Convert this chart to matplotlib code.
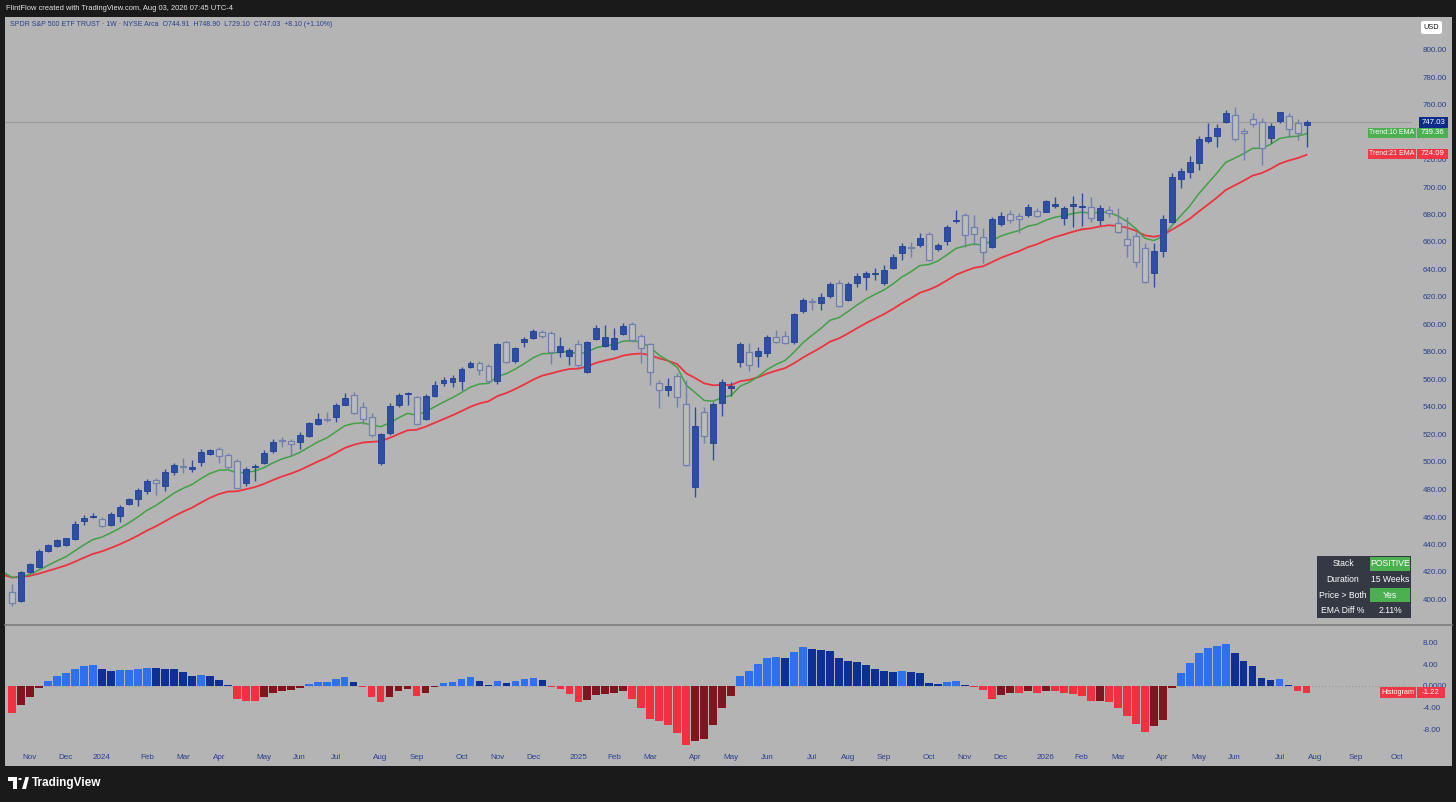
import numpy as np
import matplotlib
matplotlib.use("Agg")
import matplotlib.pyplot as plt
from matplotlib.patches import Rectangle, Polygon, Circle, FancyBboxPatch

plt.rcParams['font.family'] = ['Liberation Sans', 'DejaVu Sans']

# ---------------- data ----------------
opens = [405.7, 399.1, 420.2, 423.9, 435.3, 438.9, 439.9, 444.0, 456.9, 459.8,
         458.3, 454.4, 460.7, 469.5, 473.1, 478.9, 486.9, 482.8, 493.0, 497.0,
         494.9, 500.2, 505.8, 509.7, 504.9, 500.9, 484.5, 496.4, 499.5, 508.2,
         515.8, 515.5, 514.8, 518.9, 527.4, 531.2, 532.5, 541.7, 548.5, 539.8,
         533.0, 499.2, 521.3, 541.5, 549.5, 547.0, 531.3, 548.0, 557.2, 558.4,
         559.1, 568.9, 571.8, 570.0, 559.1, 587.3, 573.7, 587.0, 590.4, 594.5,
         593.6, 580.2, 577.3, 585.6, 565.2, 589.5, 584.4, 582.0, 593.1, 600.1,
         591.6, 585.8, 557.7, 552.4, 562.5, 542.0, 482.0, 536.1, 513.6, 543.1,
         554.0, 572.5, 580.0, 577.3, 579.0, 591.1, 591.6, 587.5, 609.8, 617.0,
         615.6, 621.0, 630.0, 617.8, 630.0, 634.8, 636.8, 630.0, 640.9, 651.8,
         656.3, 657.8, 665.8, 654.7, 661.0, 675.5, 679.6, 670.7, 663.4, 656.6,
         672.9, 680.1, 679.1, 679.6, 682.8, 682.0, 686.2, 677.7, 686.2, 685.2,
         685.2, 676.0, 683.3, 674.0, 662.0, 664.4, 655.9, 637.7, 653.5, 674.8,
         706.0, 710.7, 717.2, 733.7, 737.1, 747.3, 752.6, 740.7, 749.2, 747.3,
         735.9, 748.0, 751.6, 746.3, 744.91]
highs = [411.3, 420.7, 426.8, 436.7, 440.4, 444.0, 445.0, 457.3, 461.5, 462.7,
         459.8, 463.4, 468.7, 474.0, 481.1, 487.4, 488.6, 494.7, 499.0, 502.7,
         501.5, 509.5, 509.7, 511.1, 506.3, 502.0, 496.1, 498.5, 508.7, 516.7,
         518.4, 516.5, 521.6, 529.3, 535.4, 536.6, 542.7, 550.0, 551.1, 543.4,
         535.9, 521.0, 542.7, 550.0, 551.1, 548.0, 549.5, 559.1, 562.0, 563.3,
         568.9, 573.7, 573.7, 571.0, 586.8, 588.2, 583.9, 591.1, 596.7, 596.0,
         595.3, 591.1, 583.1, 588.7, 588.2, 599.6, 599.6, 597.2, 600.9, 602.0,
         593.1, 586.8, 559.6, 560.9, 564.5, 559.6, 540.2, 539.8, 543.9, 560.1,
         558.4, 587.5, 586.3, 583.9, 592.4, 596.0, 595.3, 608.6, 619.0, 619.5,
         622.7, 631.1, 632.4, 631.1, 637.7, 639.1, 640.9, 643.3, 651.3, 659.1,
         660.2, 666.3, 667.5, 659.5, 672.4, 683.3, 681.3, 679.6, 670.0, 678.0,
         681.6, 683.3, 680.9, 687.4, 684.5, 690.5, 692.9, 686.2, 693.5, 695.4,
         693.0, 686.9, 686.2, 684.5, 678.4, 667.5, 659.5, 659.5, 679.6, 710.0,
         713.6, 722.5, 737.1, 746.3, 745.8, 756.0, 758.0, 742.7, 753.6, 750.0,
         746.3, 754.8, 753.6, 749.2, 748.90]
lows = [395.3, 398.4, 419.0, 423.1, 434.8, 438.4, 439.0, 443.3, 454.2, 459.3,
        453.0, 453.7, 456.6, 468.5, 468.0, 476.7, 476.0, 479.1, 490.5, 492.2,
        493.0, 497.3, 504.9, 499.5, 495.4, 480.9, 482.8, 486.2, 498.5, 506.8,
        510.7, 504.6, 509.2, 518.4, 526.9, 529.3, 529.3, 541.2, 534.9, 527.6,
        518.4, 497.8, 519.6, 540.2, 541.5, 526.9, 530.5, 547.5, 555.3, 554.3,
        552.4, 568.1, 563.3, 557.7, 556.7, 571.8, 572.2, 583.4, 589.2, 590.0,
        571.3, 576.6, 570.5, 568.1, 564.5, 588.7, 583.9, 581.5, 592.4, 587.5,
        571.8, 556.0, 539.5, 548.0, 540.2, 497.1, 474.3, 513.6, 501.5, 533.5,
        548.0, 569.3, 566.4, 569.3, 576.6, 586.8, 585.8, 585.8, 608.1, 610.5,
        610.5, 619.0, 612.5, 617.3, 627.1, 625.1, 632.4, 628.7, 640.1, 646.9,
        649.3, 656.6, 646.2, 653.7, 657.8, 673.6, 656.6, 657.8, 644.9, 655.9,
        671.9, 673.6, 666.3, 678.4, 678.0, 681.6, 684.5, 672.4, 671.1, 671.6,
        674.8, 672.4, 678.0, 666.3, 649.3, 642.0, 630.4, 627.5, 649.3, 674.0,
        699.0, 706.3, 712.4, 732.2, 729.3, 746.8, 733.7, 719.6, 743.9, 716.0,
        731.8, 746.8, 736.6, 734.2, 729.10]
closes = [397.2, 419.8, 425.6, 435.5, 439.6, 443.3, 444.5, 454.7, 459.3, 460.7,
          453.7, 462.2, 467.5, 472.9, 479.4, 486.2, 484.5, 492.5, 497.6, 496.5,
          496.1, 507.1, 508.7, 504.4, 496.6, 481.3, 494.7, 497.3, 506.8, 514.8,
          515.2, 512.9, 519.4, 528.1, 531.5, 530.8, 541.5, 546.5, 535.4, 531.0,
          519.6, 520.1, 541.0, 548.5, 550.3, 527.4, 548.2, 556.0, 559.6, 560.9,
          567.4, 572.2, 566.9, 559.1, 585.8, 573.0, 582.7, 589.7, 595.0, 591.6,
          580.2, 584.4, 581.5, 570.5, 587.0, 597.2, 590.7, 590.0, 598.9, 588.7,
          583.1, 565.7, 552.4, 555.3, 547.0, 497.8, 526.2, 518.9, 542.2, 558.4,
          555.5, 585.8, 570.5, 580.7, 590.7, 587.5, 586.8, 607.6, 617.8, 616.2,
          620.0, 629.5, 613.7, 629.5, 635.3, 637.7, 637.6, 639.6, 649.3, 657.3,
          655.6, 663.1, 646.9, 657.8, 670.7, 676.3, 665.1, 665.6, 653.0, 676.7,
          679.1, 676.0, 676.5, 685.7, 678.9, 689.8, 687.4, 684.5, 687.6, 686.4,
          677.2, 685.0, 680.9, 667.5, 657.8, 645.7, 631.1, 653.5, 677.0, 707.5,
          711.4, 718.0, 734.7, 736.6, 742.9, 754.0, 734.7, 739.0, 745.6, 728.1,
          744.1, 754.3, 742.0, 738.93, 747.03]
# EMA values of the week before the first visible bar (read at the left edge)
ema10_seed = 420.2
ema21_seed = 417.9
hist_values = [-4.9, -3.5, -2.1, -0.4, 1.0, 1.8, 2.3, 3.1, 3.7, 3.9,
               3.1, 2.8, 2.9, 3.0, 3.2, 3.4, 3.25, 3.15, 3.05, 2.5,
               1.9, 2.1, 1.8, 1.1, 0.2, -2.3, -2.7, -2.8, -2.1, -1.2,
               -0.9, -0.7, -0.4, 0.4, 0.7, 0.8, 1.3, 1.7, 0.8, -0.2,
               -2.0, -3.0, -2.1, -1.0, -0.6, -1.8, -1.2, -0.2, 0.5, 0.8,
               1.2, 1.6, 1.0, 0.1, 1.0, 0.6, 0.9, 1.2, 1.5, 1.1,
               -0.1, -0.6, -1.5, -2.9, -2.5, -1.7, -1.5, -1.3, -0.9, -2.3,
               -4.1, -6.0, -6.4, -7.2, -8.7, -10.9, -10.2, -9.8, -7.2, -4.1,
               -1.8, 1.9, 2.8, 4.0, 5.1, 5.3, 5.1, 6.2, 7.1, 6.8,
               6.6, 6.5, 5.1, 4.6, 4.4, 3.9, 3.1, 2.7, 2.55, 2.8,
               2.5, 2.3, 0.6, 0.3, 0.7, 0.9, 0.1, -0.1, -0.7, -2.3,
               -1.7, -1.2, -1.3, -0.9, -1.3, -0.9, -1.0, -1.3, -1.5, -1.8,
               -2.8, -2.7, -2.9, -4.1, -5.5, -6.9, -8.4, -7.4, -6.3, -0.4,
               2.3, 4.3, 6.1, 6.9, 7.4, 7.7, 6.0, 4.6, 3.7, 1.5,
               1.1, 1.2, 0.2, -1.0, -1.22]
month_labels = ['Nov', 'Dec', '2024', 'Feb', 'Mar', 'Apr', 'May', 'Jun', 'Jul', 'Aug',
                'Sep', 'Oct', 'Nov', 'Dec', '2025', 'Feb', 'Mar', 'Apr', 'May', 'Jun',
                'Jul', 'Aug', 'Sep', 'Oct', 'Nov', 'Dec', '2026', 'Feb', 'Mar', 'Apr',
                'May', 'Jun', 'Jul', 'Aug', 'Sep', 'Oct']
month_pos = [2, 6, 10, 15, 19, 23, 28, 32, 36, 41,
             45, 50, 54, 58, 63, 67, 71, 76, 80, 84,
             89, 93, 97, 102, 106, 110, 115, 119, 123, 128,
             132, 136, 141, 145, 149.5, 154]
price_ticks = list(range(400, 801, 20))
# the 740.00 label is hidden behind the price tags in the reference
price_tick_labels = ['' if v == 740 else f'{v:.2f}' for v in price_ticks]
hist_ticks = [8, 4, 0, -4, -8]
hist_tick_labels = ['8.00', '4.00', '0.0000', '-4.00', '-8.00']
last_price = 747.03
ema10_last = 739.36
ema21_last = 724.09
hist_last = -1.22
table_rows = [('Stack', 'POSITIVE', True), ('Duration', '15 Weeks', False),
              ('Price > Both', 'Yes', True), ('EMA Diff %', '2.11%', False)]

# ---------------- styling ----------------
W, H = 1456, 802
BG = '#b4b4b4'
FRAME = '#1a1a1a'
AXTXT = '#2b3f8c'
UP = '#2e4ea3'
UP_EDGE = '#203f94'
DN_EDGE = '#7280ad'
GREEN = '#43a047'
RED = '#ee3340'

fig = plt.figure(figsize=(W / 100, H / 100), dpi=100)
fig.patch.set_facecolor(FRAME)


def frac_rect(x0, y0, x1, y1):
    return [x0 / W, 1 - y1 / H, (x1 - x0) / W, (y1 - y0) / H]


fig.patches.append(Rectangle((5 / W, 1 - 766 / H), 1447 / W, 749 / H,
                             transform=fig.transFigure, facecolor=BG,
                             edgecolor='none', zorder=-10))

# pixel x of bar i = 12 + 8.99*i
XL = (5 - 12) / 8.99
XR = (1412 - 12) / 8.99

ax = fig.add_axes(frac_rect(5, 17, 1412, 624))
axh = fig.add_axes(frac_rect(5, 626, 1412, 750), sharex=ax)
for a in (ax, axh):
    a.set_facecolor('none')
    for s in a.spines.values():
        s.set_visible(False)
    a.yaxis.tick_right()
    a.tick_params(axis='y', length=0, pad=8, labelsize=5.8, labelcolor=AXTXT)
ax.set_xlim(XL, XR)
ax.set_ylim(400 + (599.5 - 624) / 1.375, 400 + (599.5 - 17) / 1.375)
axh.set_ylim((686 - 750) / 5.44, (686 - 626) / 5.44)

ax.set_yticks(price_ticks)
ax.set_yticklabels(price_tick_labels)
ax.tick_params(axis='x', length=0, labelbottom=False)
axh.set_yticks(hist_ticks)
axh.set_yticklabels(hist_tick_labels)
axh.set_xticks(month_pos)
axh.set_xticklabels(month_labels)
axh.tick_params(axis='x', length=0, pad=3, labelsize=5.8, labelcolor=AXTXT)

# ---------------- candles ----------------
o = np.array(opens); h = np.array(highs); l = np.array(lows); c = np.array(closes)
idx = np.arange(len(c))
up = c >= o
ax.vlines(idx[up], l[up], h[up], color=UP, lw=1.0, zorder=3)
ax.vlines(idx[~up], l[~up], h[~up], color=DN_EDGE, lw=1.0, zorder=3)
body_lo = np.minimum(o, c)
body_h = np.maximum(np.abs(c - o), 0.7)
ax.bar(idx[up], body_h[up], bottom=body_lo[up], width=0.66,
       color=UP, edgecolor=UP_EDGE, linewidth=0.6, zorder=4)
ax.bar(idx[~up], body_h[~up], bottom=body_lo[~up], width=0.66,
       color='#bcbcbc', edgecolor=DN_EDGE, linewidth=0.9, zorder=4)

# ---------------- EMAs ----------------
ema10 = [ema10_seed]
ema21 = [ema21_seed]
for v in closes:
    ema10.append(ema10[-1] + (v - ema10[-1]) * 2 / 11)
    ema21.append(ema21[-1] + (v - ema21[-1]) * 2 / 22)
ex = np.arange(-1, len(closes))
ax.plot(ex, ema21, color=RED, lw=1.3, zorder=2)
ax.plot(ex, ema10, color=GREEN, lw=1.1, zorder=2)

ax.axhline(last_price, color='#9b9b9b', lw=0.8, zorder=1)

# ---------------- histogram ----------------
hv = np.array(hist_values)
prev = np.concatenate([[hv[0] + 1.0], hv[:-1]])
cols = []
for v, p in zip(hv, prev):
    if v >= 0:
        cols.append('#2f70f0' if v > p else '#0e2f93')
    else:
        cols.append('#f2303f' if v < p else '#7e1620')
axh.bar(np.arange(len(hv)), hv, width=0.86, color=cols, zorder=3)
axh.axhline(0, color='#9a9a9a', lw=0.8, ls=(0, (1, 2)), zorder=1)

# separator between panes
fig.add_artist(plt.Line2D([5 / W, 1452 / W], [1 - 625 / H, 1 - 625 / H],
                          transform=fig.transFigure, color='#7c7c7c', lw=1.2))


# ---------------- tags ----------------
def tag(a, x0, x1, val, color, text, fs=5.3, hpx=10.5, tcolor='white'):
    yd = a.transData.transform((0, val))[1]
    fig.patches.append(Rectangle((x0 / W, (yd - hpx / 2) / H), (x1 - x0) / W, hpx / H,
                                 transform=fig.transFigure, facecolor=color,
                                 edgecolor='none', zorder=5))
    fig.text((x0 + x1) / 2 / W, yd / H, text, ha='center', va='center',
             color=tcolor, fontsize=fs, zorder=6)


tag(ax, 1419, 1448, last_price, '#0d2b88', f'{last_price:.2f}', fs=5.6)
tag(ax, 1368, 1416, ema10_last, '#4caf50', 'Trend:10 EMA', fs=5.0)
tag(ax, 1417, 1448, ema10_last, '#4caf50', f'{ema10_last:.2f}', fs=5.6)
tag(ax, 1368, 1416, ema21_last, '#f23645', 'Trend:21 EMA', fs=5.0)
tag(ax, 1417, 1448, ema21_last, '#f23645', f'{ema21_last:.2f}', fs=5.6)
tag(axh, 1380, 1416, hist_last, '#f23645', 'Histogram', fs=5.2)
tag(axh, 1417, 1445, hist_last, '#f23645', f'{hist_last:.2f}', fs=5.6)

# USD box
fig.patches.append(FancyBboxPatch((1421 / W, 1 - 34 / H), 21 / W, 13 / H,
                                  boxstyle='round,pad=0,rounding_size=0.002',
                                  transform=fig.transFigure, facecolor='white',
                                  edgecolor='none', zorder=5))
fig.text(1431.5 / W, 1 - 27.5 / H, 'USD', ha='center', va='center',
         fontsize=5.3, color='#131313', zorder=6)

# ---------------- table ----------------
tx0, tx1, tmid = 1317, 1411, 1369
ty0, rh = 556, 15.6
fig.patches.append(Rectangle((tx0 / W, 1 - (ty0 + 4 * rh) / H), (tx1 - tx0) / W, 4 * rh / H,
                             transform=fig.transFigure, facecolor='#353944',
                             edgecolor='none', zorder=5))
for r, (lab, val, green) in enumerate(table_rows):
    yc = ty0 + rh * (r + 0.5)
    if green:
        fig.patches.append(Rectangle(((tmid + 1) / W, 1 - (ty0 + rh * (r + 1) - 1) / H),
                                     (tx1 - tmid - 2) / W, (rh - 2) / H,
                                     transform=fig.transFigure, facecolor='#4caf50',
                                     edgecolor='none', zorder=6))
    fig.text((tx0 + tmid) / 2 / W, 1 - yc / H, lab, ha='center', va='center',
             fontsize=6.2, color='white', zorder=7)
    fig.text((tmid + tx1) / 2 / W, 1 - yc / H, val, ha='center', va='center',
             fontsize=6.2, color='white', zorder=7)

# ---------------- header / title / footer ----------------
fig.text(6 / W, 1 - 9 / H, 'FlintFlow created with TradingView.com, Aug 03, 2026 07:45 UTC-4',
         ha='left', va='center', fontsize=5.4, color='#e6e6e6')
fig.text(10 / W, 1 - 25 / H,
         'SPDR S&P 500 ETF TRUST \u00b7 1W \u00b7 NYSE Arca  O744.91  H748.90  L729.10  C747.03  +8.10 (+1.10%)',
         ha='left', va='center', fontsize=5.0, color=AXTXT)

# TradingView logo
logo = [[(8, 777), (17, 777), (17, 789), (13, 789), (13, 781), (8, 781)],
        [(22, 789), (25.5, 777), (29, 777), (26, 789)]]
for xy in logo:
    fig.patches.append(Polygon([(x / W, 1 - y / H) for x, y in xy], closed=True,
                               transform=fig.transFigure, facecolor='white', edgecolor='none'))
fig.patches.append(Circle((20 / W, 1 - 779 / H), 1.8 / W, transform=fig.transFigure,
                          facecolor='white', edgecolor='none'))
fig.text(32 / W, 1 - 783 / H, 'TradingView', ha='left', va='center', fontsize=8.5,
         fontweight='bold', color='white')

fig.savefig('out.png', dpi=100, facecolor=fig.get_facecolor())
